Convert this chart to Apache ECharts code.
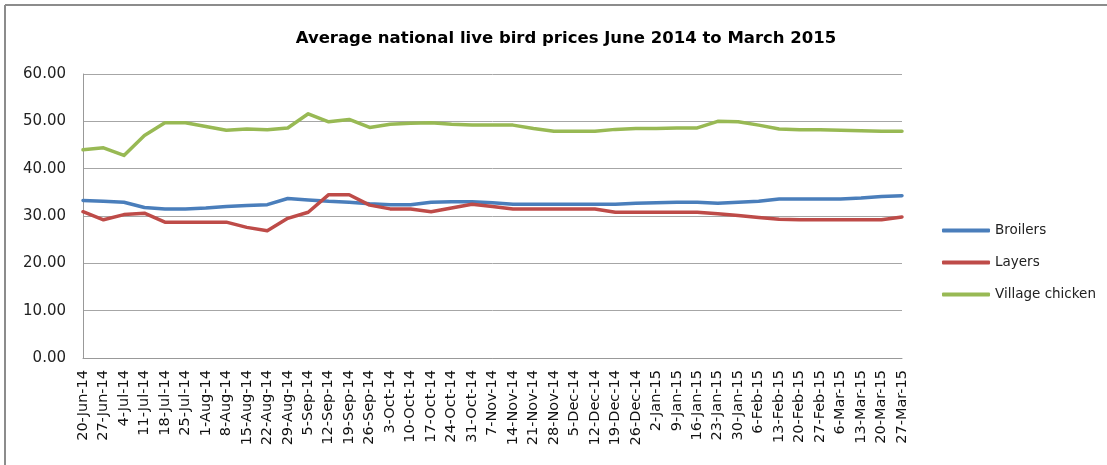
<html lang="en">

<head>
    <meta charset="UTF-8">
    <title>Average national live bird prices</title>
    <style>
        html, body { margin: 0; padding: 0; background: #fff; }
        #echart { width: 1107px; height: 465px; }
    </style>
</head>

<body>
    <div id="echart"></div>
    <script src="https://cdn.jsdelivr.net/npm/echarts@6/dist/echarts.min.js"></script>
    <script>
        // weekly dates
        const weeks = ['20-Jun-14', '27-Jun-14', '4-Jul-14', '11-Jul-14', '18-Jul-14', '25-Jul-14',
            '1-Aug-14', '8-Aug-14', '15-Aug-14', '22-Aug-14', '29-Aug-14', '5-Sep-14', '12-Sep-14',
            '19-Sep-14', '26-Sep-14', '3-Oct-14', '10-Oct-14', '17-Oct-14', '24-Oct-14', '31-Oct-14',
            '7-Nov-14', '14-Nov-14', '21-Nov-14', '28-Nov-14', '5-Dec-14', '12-Dec-14', '19-Dec-14',
            '26-Dec-14', '2-Jan-15', '9-Jan-15', '16-Jan-15', '23-Jan-15', '30-Jan-15', '6-Feb-15',
            '13-Feb-15', '20-Feb-15', '27-Feb-15', '6-Mar-15', '13-Mar-15', '20-Mar-15', '27-Mar-15']

        const broilers = [33.3, 33.1, 32.9, 31.8, 31.5, 31.5, 31.7, 32.0, 32.2, 32.4,
            33.7, 33.4, 33.1, 32.9, 32.6, 32.4, 32.4, 32.9, 33.0, 33.0,
            32.8, 32.5, 32.5, 32.5, 32.5, 32.5, 32.5, 32.7, 32.8, 32.9,
            32.9, 32.7, 32.9, 33.1, 33.6, 33.6, 33.6, 33.6, 33.8, 34.1, 34.3]

        const layers = [30.9, 29.2, 30.3, 30.6, 28.7, 28.7, 28.7, 28.7, 27.6, 26.9,
            29.5, 30.8, 34.5, 34.5, 32.3, 31.5, 31.5, 30.9, 31.7, 32.5,
            32.0, 31.5, 31.5, 31.5, 31.5, 31.5, 30.8, 30.8, 30.8, 30.8,
            30.8, 30.5, 30.1, 29.7, 29.3, 29.2, 29.2, 29.2, 29.2, 29.2, 29.8]

        const village = [44.0, 44.4, 42.8, 47.0, 49.7, 49.7, 48.9, 48.1, 48.4, 48.2,
            48.6, 51.6, 49.9, 50.4, 48.7, 49.4, 49.6, 49.7, 49.4, 49.2,
            49.2, 49.2, 48.5, 47.9, 47.9, 47.9, 48.3, 48.5, 48.5, 48.6,
            48.6, 50.0, 49.9, 49.2, 48.4, 48.2, 48.2, 48.1, 48.0, 47.9, 47.9]

        const font = 'DejaVu Sans'
        const echart = echarts.init(document.getElementById('echart'))

        const line = (name, data, color) => ({
            name: name,
            type: 'line',
            data: data,
            showSymbol: false,
            symbol: 'none',
            lineStyle: { width: 3.5, color: color, cap: 'round', join: 'round' },
            itemStyle: { color: color }
        })

        echart.setOption({
            animation: false,
            // frame lines (top and left) of the cropped chart
            graphic: [
                { type: 'line', shape: { x1: 5, y1: 5, x2: 1107, y2: 5 }, style: { stroke: '#8c8c8c', lineWidth: 2 } },
                { type: 'line', shape: { x1: 5, y1: 5, x2: 5, y2: 465 }, style: { stroke: '#8c8c8c', lineWidth: 2 } }
            ],
            title: {
                text: 'Average national live bird prices June 2014 to March 2015',
                left: 561,
                textAlign: 'center',
                top: 25,
                textStyle: { fontFamily: font, fontSize: 16.5, fontWeight: 'bold', color: '#000' }
            },
            legend: {
                orient: 'vertical',
                left: 937,
                top: 218,
                icon: 'roundRect',
                itemWidth: 48,
                itemHeight: 4,
                itemGap: 17,
                textStyle: { fontFamily: font, fontSize: 13.5, color: '#222', lineHeight: 15 }
            },
            grid: { left: 83, right: 205, top: 74, bottom: 107, containLabel: false },
            xAxis: {
                type: 'category',
                data: weeks,
                boundaryGap: false,
                axisLine: { lineStyle: { color: '#999', width: 1 } },
                axisTick: { show: false },
                axisLabel: { rotate: 90, interval: 0, margin: 12, fontFamily: font, fontSize: 14.5, color: '#111' }
            },
            yAxis: {
                type: 'value',
                min: 0,
                max: 60,
                interval: 10,
                axisLine: { show: true, lineStyle: { color: '#999', width: 1 } },
                axisTick: { show: false },
                splitLine: { lineStyle: { color: '#a6a6a6', width: 1 } },
                axisLabel: { margin: 17, fontFamily: font, fontSize: 15, color: '#222', formatter: v => v.toFixed(2) }
            },
            series: [
                line('Broilers', broilers, '#4A7EBB'),
                line('Layers', layers, '#BE4B48'),
                line('Village chicken', village, '#98B954')
            ]
        })
    </script>
</body>

</html>
